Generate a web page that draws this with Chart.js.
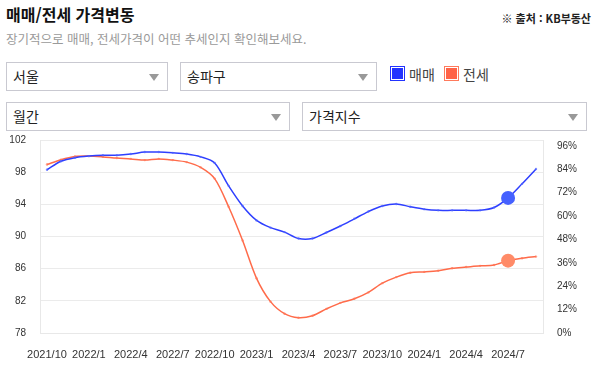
<!DOCTYPE html>
<html lang="ko">
<head>
<meta charset="utf-8">
<script src="https://cdn.jsdelivr.net/npm/chart.js@4.4.1/dist/chart.umd.min.js"></script>
<style>
  body { margin: 0; width: 595px; height: 367px; overflow: hidden; background: #fff;
         font-family: "Noto Sans CJK KR", "Noto Sans", sans-serif; position: relative; }
  .title { position: absolute; left: 6px; top: 4px; font-size: 16px; font-weight: bold; color: #111; line-height: 20px; }
  .sub { position: absolute; left: 6px; top: 31px; font-size: 12.5px; color: #9a9a9a; line-height: 16px; }
  .src { position: absolute; right: 4px; top: 10px; font-size: 11px; font-weight: bold; color: #222; line-height: 16px; }
  .sel { position: absolute; box-sizing: border-box; height: 29px; border: 1px solid #c9c9d1; background: #fff;
         font-size: 14px; color: #222; line-height: 27px; padding-left: 6px; }
  .sel::after { content: ""; position: absolute; right: 8px; top: 11px; border-left: 5px solid transparent;
                border-right: 5px solid transparent; border-top: 7px solid #999; }
  .lg-box { position: absolute; top: 66px; width: 15px; height: 15px; box-sizing: border-box; }
  .lg-txt { position: absolute; top: 64px; font-size: 14px; color: #444; line-height: 20px; }
  #wrap { position: absolute; left: 0; top: 120px; width: 595px; height: 247px; }
</style>
</head>
<body>
<div class="title">매매/전세 가격변동</div>
<div class="sub">장기적으로 매매, 전세가격이 어떤 추세인지 확인해보세요.</div>
<div class="src">※ 출처 : KB부동산</div>

<div class="sel" style="left:6px; top:62px; width:162px;">서울</div>
<div class="sel" style="left:180px; top:62px; width:197px;">송파구</div>
<div class="lg-box" style="left:390px; border:1.5px solid #2233ff; box-shadow: inset 0 0 0 1px #fff; background:#2233ff;"></div>
<div class="lg-txt" style="left:409px;">매매</div>
<div class="lg-box" style="left:444px; border:1.5px solid #ff7a5c; box-shadow: inset 0 0 0 1px #fff; background:#ff6347;"></div>
<div class="lg-txt" style="left:463px;">전세</div>
<div class="sel" style="left:6px; top:102px; width:284px;">월간</div>
<div class="sel" style="left:302px; top:102px; width:285px;">가격지수</div>

<div id="wrap"><canvas id="chart"></canvas></div>

<script>
const months = [
  '2021/10', '2021/11', '2021/12', '2022/1', '2022/2', '2022/3', '2022/4', '2022/5', '2022/6',
  '2022/7', '2022/8', '2022/9', '2022/10', '2022/11', '2022/12', '2023/1', '2023/2', '2023/3',
  '2023/4', '2023/5', '2023/6', '2023/7', '2023/8', '2023/9', '2023/10', '2023/11', '2023/12',
  '2024/1', '2024/2', '2024/3', '2024/4', '2024/5', '2024/6', '2024/7', '2024/8', '2024/9'
];

// 매매 가격지수
const saleIndex = [
  98.3, 99.35, 99.8, 100.0, 100.1, 100.1, 100.25, 100.5, 100.5,
  100.4, 100.25, 99.9, 99.15, 96.3, 93.8, 92.0, 91.1, 90.55,
  89.75, 89.75, 90.5, 91.3, 92.2, 93.1, 93.8, 94.05, 93.7,
  93.4, 93.25, 93.25, 93.25, 93.25, 93.6, 94.8, 96.55, 98.4
];

// 전세 가격지수
const jeonseIndex = [
  98.95, 99.55, 99.95, 100.0, 99.9, 99.75, 99.65, 99.5, 99.65,
  99.5, 99.25, 98.6, 97.2, 93.7, 89.5, 84.8, 81.9, 80.4,
  79.9, 80.15, 81.0, 81.75, 82.25, 83.05, 84.2, 84.95, 85.5,
  85.6, 85.75, 86.05, 86.2, 86.35, 86.45, 87.0, 87.3, 87.5
];

const highlightIndex = 33;

Chart.defaults.font.family = "'Liberation Sans', Arial, sans-serif";
Chart.defaults.color = '#333';

const graph_cont = document.getElementById('chart');

let myChart = new Chart(graph_cont, {
    type: 'line',
    data: {
        labels: months,
        datasets: [{
            label: '매매',
            data: saleIndex,
            borderColor: '#2e3fff',
            backgroundColor: '#2e3fff',
            borderWidth: 1.5,
            tension: 0.3,
            pointRadius: ctx => ctx.dataIndex === highlightIndex ? 7 : 1.2,
            pointBackgroundColor: ctx => ctx.dataIndex === highlightIndex ? '#4561ff' : 'rgba(80,100,255,0.7)',
            pointBorderWidth: 0,
            yAxisID: 'y'
        }, {
            label: '전세',
            data: jeonseIndex,
            borderColor: '#ff6b4a',
            backgroundColor: '#ff6b4a',
            borderWidth: 1.5,
            tension: 0.3,
            pointRadius: ctx => ctx.dataIndex === highlightIndex ? 7 : 1.2,
            pointBackgroundColor: ctx => ctx.dataIndex === highlightIndex ? '#ff8b68' : 'rgba(255,120,90,0.7)',
            pointBorderWidth: 0,
            yAxisID: 'y'
        }]
    },

    options: {
        responsive: true,
        maintainAspectRatio: false,
        animation: false,
        layout: { padding: { top: 0, left: 0, right: 0, bottom: 0 } },
        scales: {
            x: {
                offset: true,
                grid: { display: false },
                border: { color: '#e8e8e8' },
                ticks: {
                    autoSkip: false,
                    maxRotation: 0,
                    minRotation: 0,
                    padding: 7,
                    font: { size: 11 },
                    callback: (v, i) => i % 3 === 0 ? months[i] : ''
                },
                afterFit: s => { s.height = 34; }
            },
            y: {
                position: 'left',
                min: 78,
                max: 102,
                grid: { color: '#ebebeb', drawTicks: false },
                border: { color: '#e8e8e8' },
                ticks: { stepSize: 4, padding: 14, font: { size: 10 } },
                afterFit: s => { s.width = 40; }
            },
            y2: {
                position: 'right',
                min: 0,
                max: 99,
                grid: { display: false, drawTicks: false },
                border: { color: '#e8e8e8' },
                ticks: {
                    stepSize: 12,
                    includeBounds: false,
                    padding: 14,
                    font: { size: 10 },
                    callback: v => v + '%'
                },
                afterFit: s => { s.width = 52; }
            }
        },
        plugins: {
            legend: { display: false },
            tooltip: { enabled: false }
        }
    }
});
</script>
</body>
</html>
